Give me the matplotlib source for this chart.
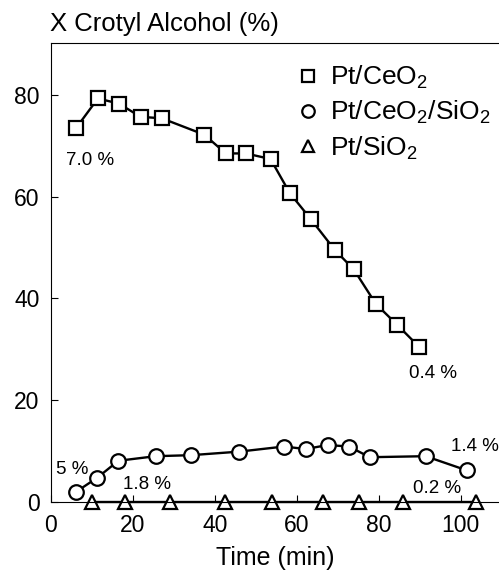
import matplotlib
matplotlib.use("Agg")
import matplotlib.pyplot as plt

plt.rcParams['font.family'] = ['Liberation Sans', 'DejaVu Sans']
plt.rcParams['mathtext.default'] = 'regular'

# Pt/CeO2 (squares)
t_ceo2 = [6.2, 11.5, 16.6, 21.9, 27.1, 37.4, 42.7, 47.6, 53.6, 58.3,
          63.4, 69.3, 73.9, 79.3, 84.5, 89.8]
x_ceo2 = [73.5, 79.3, 78.3, 75.7, 75.4, 72.2, 68.5, 68.5, 67.4, 60.7,
          55.6, 49.5, 45.7, 38.9, 34.8, 30.5]

# Pt/CeO2/SiO2 (circles)
t_mix = [6.2, 11.4, 16.5, 25.6, 34.2, 46.0, 56.9, 62.2, 67.5, 72.7,
         77.8, 91.4, 101.5]
x_mix = [2.0, 4.8, 8.1, 9.0, 9.2, 9.9, 10.9, 10.4, 11.2, 10.9,
         8.8, 9.0, 6.2]

# Pt/SiO2 (triangles)
t_sio2 = [10.0, 18.1, 29.1, 42.5, 53.9, 66.4, 75.2, 85.9, 103.6]
x_sio2 = [0, 0, 0, 0, 0, 0, 0, 0, 0]

# selectivity labels
notes = ["7.0 %", "0.4 %", "5 %", "1.8 %", "1.4 %", "0.2 %"]
note_xy = [(9.7, 67.2), (93.2, 25.2), (5.2, 6.4), (23.5, 3.5), (103.4, 10.9), (94.1, 2.7)]

fig = plt.figure(figsize=(4.99, 5.72), dpi=100)
ax = fig.add_axes([0.1016, 0.1224, 0.8984, 0.8024])

style = dict(color='black', lw=1.7, mfc='white', mec='black', mew=1.6, clip_on=False)
ax.plot(t_ceo2, x_ceo2, marker='s', ms=9.5, label='Pt/CeO$_2$', **style)
ax.plot(t_mix, x_mix, marker='o', ms=10.5, label='Pt/CeO$_2$/SiO$_2$', **style)
ax.plot(t_sio2, x_sio2, marker='^', ms=10.5, label='Pt/SiO$_2$', **style)

for txt, (x, y) in zip(notes, note_xy):
    ax.text(x, y, txt, fontsize=13.5, ha='center', va='center')

ax.set_xlim(0, 109.3)
ax.set_ylim(0, 90.2)
ax.set_xticks([0, 20, 40, 60, 80, 100])
ax.set_yticks([0, 20, 40, 60, 80])
ax.tick_params(direction='in', labelsize=16.5, length=5, width=0.8)
ax.tick_params(axis='x', pad=9)
ax.tick_params(axis='y', pad=8)
ax.spines['right'].set_visible(False)
ax.set_xlabel('Time (min)', fontsize=18, labelpad=6)
fig.text(0.1, 0.958, 'X Crotyl Alcohol (%)', fontsize=18.5, ha='left', va='center')

leg = ax.legend(loc='upper left', bbox_to_anchor=(0.532, 0.977), frameon=False,
                fontsize=19, handlelength=0.6, handletextpad=0.55,
                labelspacing=0.3, borderaxespad=0)
for h in leg.legend_handles:
    h.set_linestyle('none')
    h.set_markersize(9)

fig.savefig('out.png', dpi=100)
